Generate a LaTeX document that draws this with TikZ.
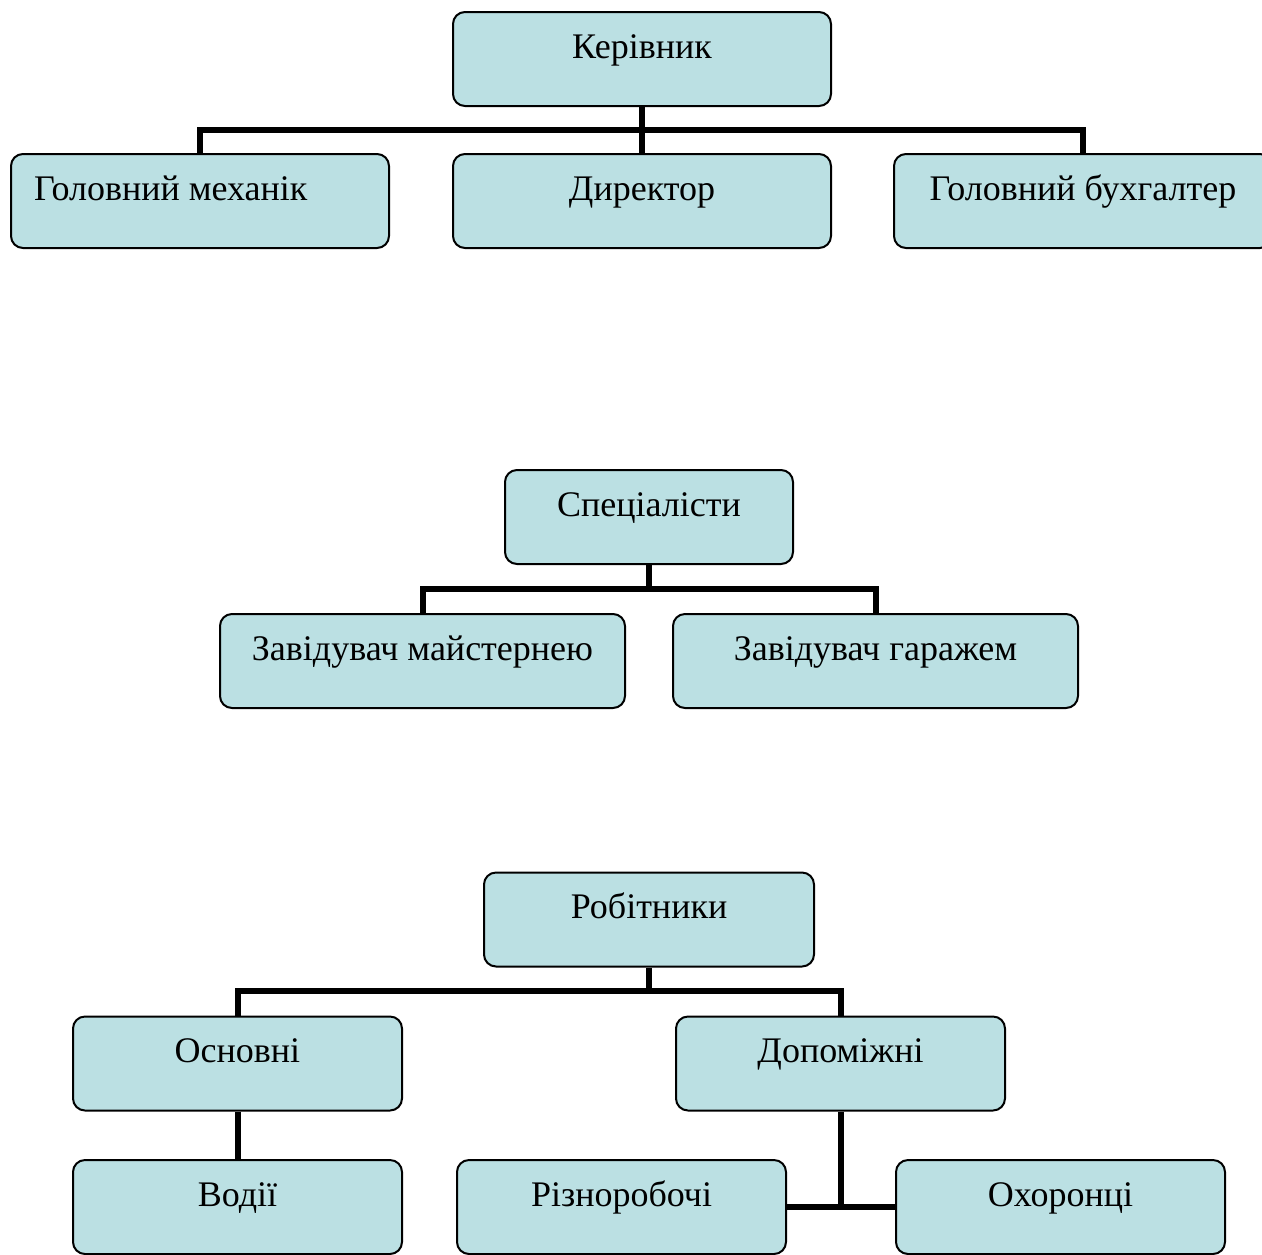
\documentclass[tikz,border=0pt]{standalone}
\usepackage{fontspec}
\setmainfont{Liberation Serif}
\usepackage{xcolor}
\usepackage{tikz}
\usetikzlibrary{shapes,calc}
\definecolor{boxfill}{HTML}{BBE0E3}

\begin{document}
\begin{tikzpicture}[
    x=0.5pt, y=-0.5pt,
    unit/.style={rectangle, draw, line width=1pt, fill=boxfill, rounded corners=6pt, minimum width=#1, inner sep=0pt, text height=23pt, text depth=24pt, font=\fontsize{18}{21}\selectfont},
    unit/.default=189pt,
    link/.style={line width=3pt}
]
\useasboundingbox (0,0) rectangle (1262,1254);
\clip (0,0) rectangle (1262,1254);

\node[unit] (kerivnyk) at (642,59) {Керівник};
\node[unit, text width=166pt, align=flush left] (mekhanik) at (200,201) {Головний механік};
\node[unit] (dyrektor) at (642,201) {Директор};
\node[unit] (bukhhalter) at (1083,201) {Головний бухгалтер};

\node[unit=144pt] (spetsialisty) at (649,517) {Спеціалісти};
\node[unit=202.5pt] (maisternia) at (422.5,661) {Завідувач майстернею};
\node[unit=202.5pt] (harazh) at (875.5,661) {Завідувач гаражем};

\node[unit=165pt] (robitnyky) at (649,919.5) {Робітники};
\node[unit=164.5pt] (osnovni) at (237.5,1063.5) {Основні};
\node[unit=164.5pt] (dopomizhni) at (840.5,1063.5) {Допоміжні};
\node[unit=164.5pt] (vodii) at (237.5,1207) {Водії};
\node[unit=164.5pt] (riznorobochi) at (621.5,1207) {Різноробочі};
\node[unit=164.5pt] (okhorontsi) at (1060.5,1207) {Охоронці};

\coordinate (topbus) at (642,130);
\coordinate (midbus) at (649,589);
\coordinate (botbus) at (649,991);

\draw[link] (kerivnyk.south) -- (dyrektor.north);
\draw[link] (mekhanik.north) |- (topbus) -| (bukhhalter.north);
\draw[link] (spetsialisty.south) -- (midbus);
\draw[link] (maisternia.north) |- (midbus) -| (harazh.north);
\draw[link] (robitnyky.south) -- (botbus);
\draw[link] (osnovni.north) |- (botbus) -| (dopomizhni.north);
\draw[link] (osnovni.south) -- (vodii.north);
\draw[link] (dopomizhni.south) -- (dopomizhni.south |- riznorobochi.east);
\draw[link] (riznorobochi.east) -- (okhorontsi.west);
\end{tikzpicture}
\end{document}
